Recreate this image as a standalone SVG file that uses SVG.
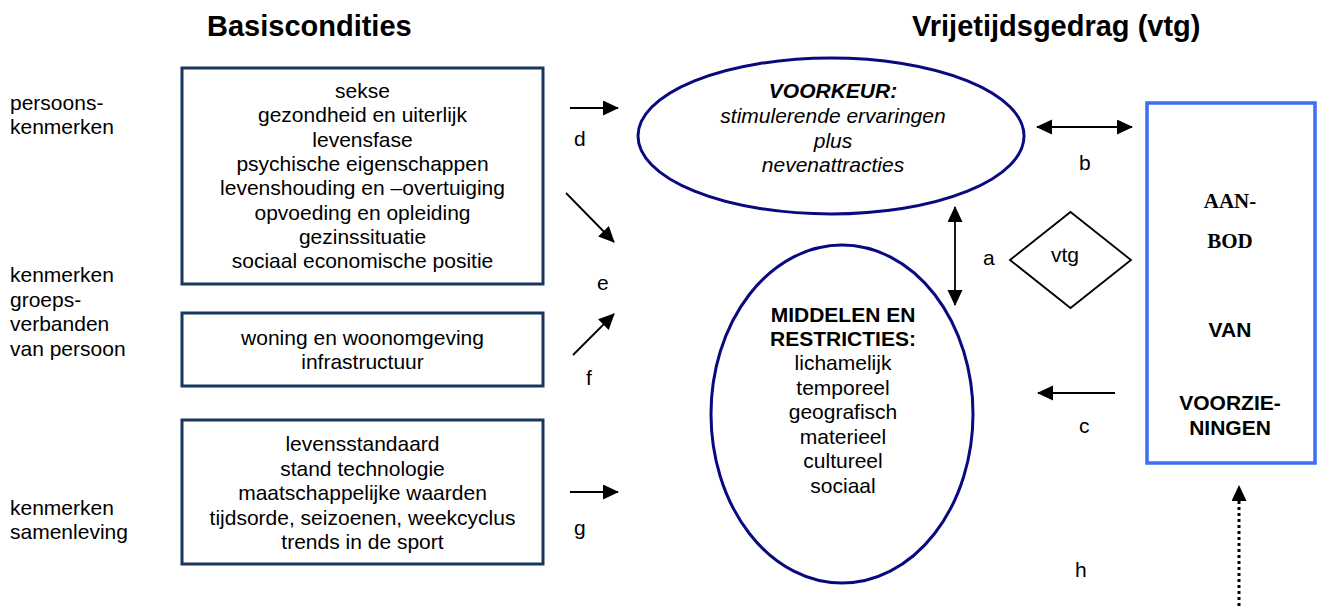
<svg xmlns="http://www.w3.org/2000/svg" width="1322" height="606" viewBox="0 0 1322 606">
<style>
text{font-family:"Liberation Sans",Arial,sans-serif;font-size:21px;fill:#000}
.c{text-anchor:middle}
.h{font-size:29px;font-weight:bold}
.b{font-weight:bold}
.i{font-style:italic}
.serif{font-family:"Liberation Serif","Times New Roman",serif;font-weight:bold;font-size:21px}
.box{fill:#fff;stroke:#17375e;stroke-width:3}
.ell{fill:#fff;stroke:#0a0a80;stroke-width:3}
.blue{fill:#fff;stroke:#3d6cf6;stroke-width:3.5}
.ln{stroke:#000;stroke-width:1.8;fill:none}
</style>
<defs>
<marker id="ah" markerUnits="userSpaceOnUse" markerWidth="16" markerHeight="16" refX="15" refY="7.5" orient="auto-start-reverse">
<path d="M0,0 L16,7.5 L0,15 z" fill="#000"/>
</marker>
</defs>

<text class="h" x="207" y="36">Basiscondities</text>
<text class="h" x="912" y="36">Vrijetijdsgedrag (vtg)</text>

<g id="labels-left">
<text x="10" y="110">persoons-</text>
<text x="10" y="134">kenmerken</text>
<text x="10" y="282">kenmerken</text>
<text x="10" y="306.5">groeps-</text>
<text x="10" y="331">verbanden</text>
<text x="10" y="355.5">van persoon</text>
<text x="10" y="515">kenmerken</text>
<text x="10" y="539">samenleving</text>
</g>

<g id="box-persoon">
<rect class="box" x="182" y="68" width="361" height="216"/>
<text class="c" x="362.5" y="98">sekse</text>
<text class="c" x="362.5" y="122.3">gezondheid en uiterlijk</text>
<text class="c" x="362.5" y="146.6">levensfase</text>
<text class="c" x="362.5" y="170.9">psychische eigenschappen</text>
<text class="c" x="362.5" y="195.2">levenshouding en –overtuiging</text>
<text class="c" x="362.5" y="219.5">opvoeding en opleiding</text>
<text class="c" x="362.5" y="243.8">gezinssituatie</text>
<text class="c" x="362.5" y="268.1">sociaal economische positie</text>
</g>

<g id="box-groep">
<rect class="box" x="182" y="313" width="361" height="73"/>
<text class="c" x="362.5" y="345">woning en woonomgeving</text>
<text class="c" x="362.5" y="368.5">infrastructuur</text>
</g>

<g id="box-samenleving">
<rect class="box" x="182" y="420" width="361" height="144"/>
<text class="c" x="362.5" y="451">levensstandaard</text>
<text class="c" x="362.5" y="475.5">stand technologie</text>
<text class="c" x="362.5" y="500">maatschappelijke waarden</text>
<text class="c" x="362.5" y="524.5">tijdsorde, seizoenen, weekcyclus</text>
<text class="c" x="362.5" y="549">trends in de sport</text>
</g>

<g id="voorkeur">
<ellipse class="ell" cx="831" cy="136" rx="193" ry="78"/>
<text class="c b i" x="833" y="98">VOORKEUR:</text>
<text class="c i" x="833" y="123">stimulerende ervaringen</text>
<text class="c i" x="833" y="148">plus</text>
<text class="c i" x="833" y="172">nevenattracties</text>
</g>

<g id="middelen">
<ellipse class="ell" cx="842" cy="414" rx="131" ry="169"/>
<text class="c b" x="843" y="321.5">MIDDELEN EN</text>
<text class="c b" x="843" y="345.5">RESTRICTIES:</text>
<text class="c" x="843" y="370">lichamelijk</text>
<text class="c" x="843" y="394.5">temporeel</text>
<text class="c" x="843" y="419">geografisch</text>
<text class="c" x="843" y="443.5">materieel</text>
<text class="c" x="843" y="468">cultureel</text>
<text class="c" x="843" y="492.5">sociaal</text>
</g>

<g id="vtg">
<polygon points="1010,260 1070.5,212 1131,260 1070.5,308" fill="#fff" stroke="#000" stroke-width="1.8"/>
<text class="c" x="1065" y="262">vtg</text>
</g>

<g id="aanbod">
<rect class="blue" x="1147" y="103" width="168" height="360"/>
<text class="c serif" x="1230" y="208">AAN-</text>
<text class="c serif" x="1230" y="248">BOD</text>
<text class="c b" x="1230" y="337">VAN</text>
<text class="c b" x="1230" y="410">VOORZIE-</text>
<text class="c b" x="1230" y="435">NINGEN</text>
</g>

<g id="connectors">
<line class="ln" x1="570" y1="108" x2="618" y2="108" marker-end="url(#ah)"/>
<line class="ln" x1="566" y1="193" x2="614" y2="242" marker-end="url(#ah)"/>
<line class="ln" x1="573" y1="355" x2="614" y2="314" marker-end="url(#ah)"/>
<line class="ln" x1="570" y1="492" x2="618" y2="492" marker-end="url(#ah)"/>
<line class="ln" x1="955" y1="207" x2="955" y2="305" marker-start="url(#ah)" marker-end="url(#ah)"/>
<line class="ln" x1="1037" y1="127" x2="1132" y2="127" marker-start="url(#ah)" marker-end="url(#ah)"/>
<line class="ln" x1="1115" y1="393" x2="1038" y2="393" marker-end="url(#ah)"/>
<line x1="1239" y1="606" x2="1239" y2="486" stroke="#000" stroke-width="3" stroke-dasharray="3,3" marker-end="url(#ah)"/>
<text x="574" y="146">d</text>
<text x="597" y="290">e</text>
<text x="586" y="385">f</text>
<text x="574" y="535">g</text>
<text x="983" y="265">a</text>
<text x="1079" y="170">b</text>
<text x="1079" y="433">c</text>
<text x="1075" y="577">h</text>
</g>
</svg>
